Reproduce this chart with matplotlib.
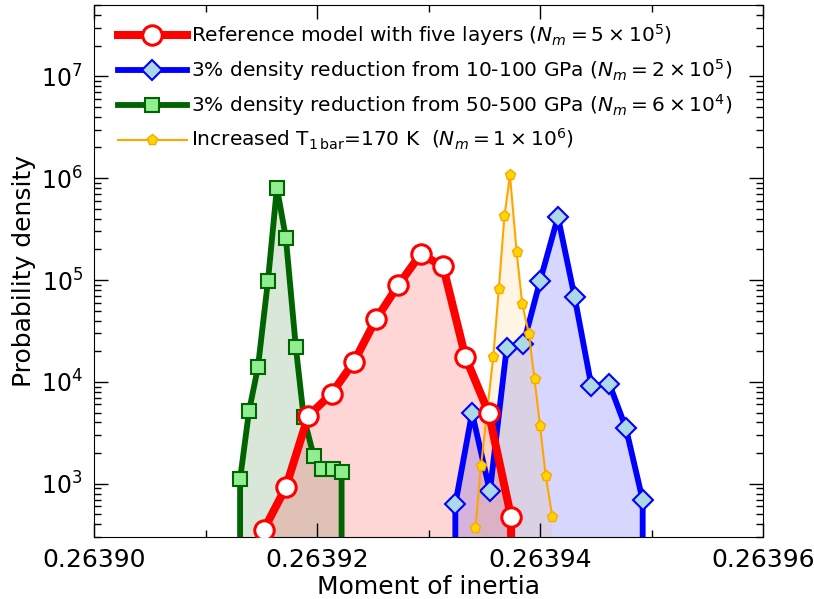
import numpy as np
import matplotlib
matplotlib.use("Agg")
import matplotlib.pyplot as plt
from matplotlib.ticker import MultipleLocator, FormatStrFormatter, LogLocator

# Reference model with five layers
ref_x = [0.2639132, 0.2639152, 0.2639172, 0.2639192, 0.2639213, 0.2639233, 0.2639253,
         0.2639273, 0.2639293, 0.2639313, 0.2639333, 0.2639354, 0.2639374, 0.2639394]
ref_y = [0, 349, 920, 4610, 7670, 15700, 41400, 89700, 179900, 135900, 17600, 4930, 473, 0]

# 3% density reduction from 10-100 GPa
blue_x = [0.2639309, 0.2639324, 0.2639339, 0.2639355, 0.2639370, 0.2639385, 0.2639400,
          0.2639416, 0.2639431, 0.2639446, 0.2639462, 0.2639477, 0.2639492, 0.2639507]
blue_y = [0, 631, 4980, 840, 21300, 23500, 98200, 417000, 67800, 9120, 9620, 3510, 690, 0]

# 3% density reduction from 50-500 GPa
green_x = [0.2639122, 0.2639131, 0.2639139, 0.2639147, 0.2639156, 0.2639164, 0.2639172,
           0.2639181, 0.2639188, 0.2639197, 0.2639204, 0.2639214, 0.2639222, 0.2639231]
green_y = [0, 1112, 5164, 13930, 98800, 806000, 260700, 21800, 4510, 1876, 1396, 1396, 1294, 0]

# Increased T_1bar = 170 K
orange_x = [0.2639342, 0.2639347, 0.2639358, 0.2639363, 0.2639368, 0.2639373, 0.2639379,
            0.2639384, 0.2639390, 0.2639395, 0.2639400, 0.2639405, 0.2639411]
orange_y = [366, 1495, 17600, 81900, 423000, 1070000, 186700, 58200, 29500, 10600, 3670, 1200, 473]

labels = [r"Reference model with five layers ($N_m=5\times10^5$)",
          r"3% density reduction from 10-100 GPa ($N_m=2\times10^5$)",
          r"3% density reduction from 50-500 GPa ($N_m=6\times10^4$)",
          r"Increased T$_{\rm 1\,bar}$=170 K  ($N_m=1\times10^6$)"]

fig = plt.figure(figsize=(8.14, 5.99), dpi=100)
ax = fig.add_axes([0.1155, 0.1035, 0.822, 0.888])
ax.set_yscale("log")


def fill(x, y, color, alpha):
    x = np.asarray(x); y = np.asarray(y, dtype=float)
    m = y > 0
    ax.fill_between(x[m], y[m], 1e-3, color=color, alpha=alpha, lw=0, zorder=1)


fill(green_x, green_y, "darkgreen", 0.15)
fill(ref_x, ref_y, "red", 0.16)
fill(blue_x, blue_y, "blue", 0.16)
fill(orange_x, orange_y, "orange", 0.10)

hg, = ax.plot(green_x, green_y, "-s", color="darkgreen", lw=4.2, ms=10,
              mfc="lightgreen", mec="darkgreen", mew=1.5, zorder=3, label=labels[2])
hb, = ax.plot(blue_x, blue_y, "-D", color="blue", lw=4.2, ms=10,
              mfc="lightblue", mec="blue", mew=1.5, zorder=4, label=labels[1])
ho, = ax.plot(orange_x, orange_y, "-p", color="orange", lw=1.5, ms=8,
              mfc="gold", mec="orange", mew=1, zorder=5, label=labels[3])
hr, = ax.plot(ref_x, ref_y, "-o", color="red", lw=5.8, ms=14,
              mfc="white", mec="red", mew=2.2, zorder=6, label=labels[0])

ax.set_xlim(0.26390, 0.26396)
ax.set_ylim(300, 5e7)
ax.xaxis.set_major_locator(MultipleLocator(2e-5))
ax.xaxis.set_minor_locator(MultipleLocator(1e-5))
ax.xaxis.set_major_formatter(FormatStrFormatter("%.5f"))
ax.yaxis.set_major_locator(LogLocator(base=10, numticks=20))
ax.yaxis.set_minor_locator(LogLocator(base=10, subs=np.arange(2, 10), numticks=20))

ax.tick_params(which="both", direction="in", top=True, right=True)
ax.tick_params(which="major", length=10, width=1)
ax.tick_params(which="minor", length=5, width=1)
ax.tick_params(axis="x", which="major", labelsize=18, pad=8)
ax.tick_params(axis="y", which="major", labelsize=17, pad=8)

ax.set_xlabel("Moment of inertia", fontsize=18, labelpad=2)
ax.set_ylabel("Probability density", fontsize=18)

ax.legend(handles=[hr, hb, hg, ho], loc="upper left", frameon=False, fontsize=14.5,
          handlelength=3.4, handletextpad=0.2, labelspacing=0.45,
          borderaxespad=0.5, borderpad=0.5, bbox_to_anchor=(0.006, 1.006))

fig.savefig("out.png", dpi=100)
